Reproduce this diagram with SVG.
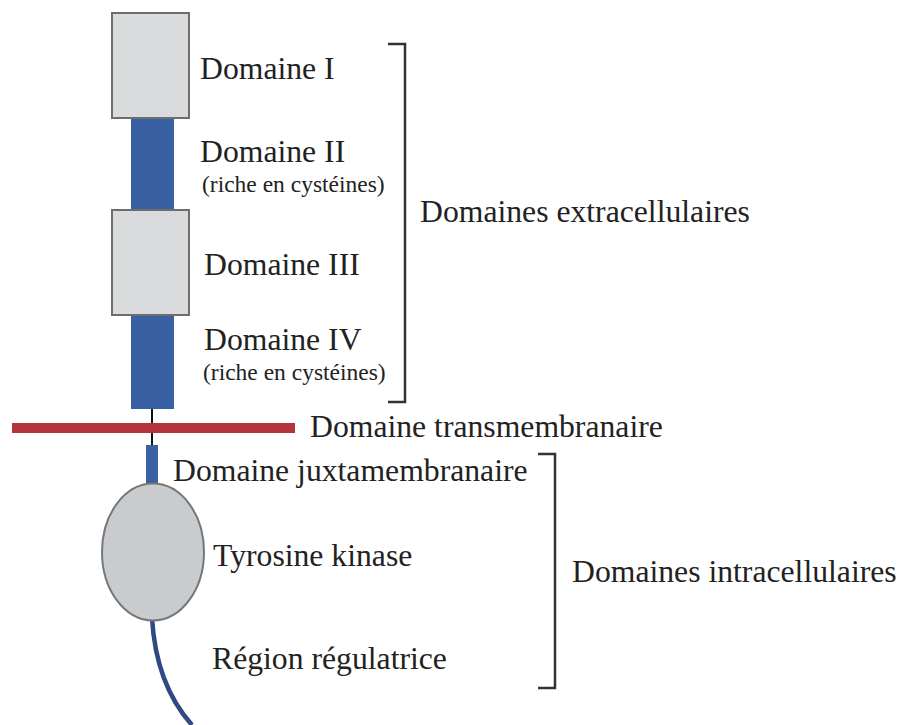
<svg xmlns="http://www.w3.org/2000/svg" width="902" height="725" viewBox="0 0 902 725">
<style>
.t{font-family:"Liberation Serif","Times New Roman",serif;font-size:31.7px;fill:#222}
.s{font-family:"Liberation Serif","Times New Roman",serif;font-size:23.5px;fill:#222}
.box{fill:#d9dbdd;stroke:#6e6e6e;stroke-width:2}
.blue{fill:#3a60a4}
.br{fill:none;stroke:#333;stroke-width:2.5}
</style>
<rect width="902" height="725" fill="#fff"/>
<g id="connectors">
<line x1="152" y1="406" x2="152" y2="447" stroke="#111" stroke-width="2"/>
<path d="M152,618 Q156,685 192,725" fill="none" stroke="#2d4a82" stroke-width="4.5"/>
</g>
<g id="domaine-2"><rect class="blue" x="131" y="116" width="43" height="97"/></g>
<g id="domaine-4"><rect class="blue" x="131" y="313" width="43" height="96"/></g>
<g id="domaine-1"><rect class="box" x="112" y="13" width="77" height="105"/></g>
<g id="domaine-3"><rect class="box" x="112" y="210" width="77" height="105"/></g>
<g id="membrane"><rect x="12" y="423" width="283" height="10" fill="#b3343a"/></g>
<g id="juxta"><rect class="blue" x="146" y="445" width="12" height="40"/></g>
<g id="kinase"><ellipse cx="153" cy="552" rx="51" ry="68.5" fill="#c9cccf" stroke="#777" stroke-width="2"/></g>
<g id="labels">
<text class="t" x="200" y="79">Domaine I</text>
<text class="t" x="200" y="162">Domaine II</text>
<text class="s" x="202" y="192">(riche en cystéines)</text>
<text class="t" x="204" y="275">Domaine III</text>
<text class="t" x="204" y="350">Domaine IV</text>
<text class="s" x="203" y="380">(riche en cystéines)</text>
<text class="t" x="420" y="222">Domaines extracellulaires</text>
<text class="t" x="310" y="437">Domaine transmembranaire</text>
<text class="t" x="173" y="481">Domaine juxtamembranaire</text>
<text class="t" x="213" y="566">Tyrosine kinase</text>
<text class="t" x="572" y="582">Domaines intracellulaires</text>
<text class="t" x="212" y="669">Région régulatrice</text>
</g>
<g id="brackets">
<path class="br" d="M388,44 H405 V402 H388"/>
<path class="br" d="M538,454 H555 V688 H538"/>
</g>
</svg>
